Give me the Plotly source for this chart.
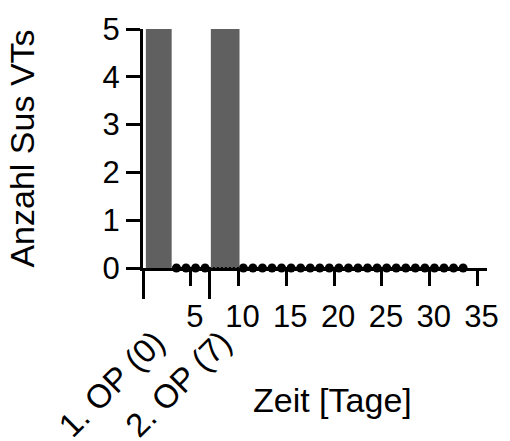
import plotly.graph_objects as go

# Surgery days (long ticks with rotated labels)
op_days = [0, 7]
op_labels = ["1. OP (0)", "2. OP (7)"]

# Bars: number of sustained VTs in the days following each surgery
bar_centers = [1.65, 8.6]
bar_widths = [2.7, 3.0]
bar_counts = [5, 5]

# Daily counts afterwards (all zero)
dot_days = [3.5, 4.5, 5.5, 6.5] + [10.5 + i for i in range(24)]
dot_counts = [0] * len(dot_days)

x_ticks = [5, 10, 15, 20, 25, 30, 35]
y_ticks = [0, 1, 2, 3, 4, 5]

FONT = "Liberation Sans, Arial, sans-serif"
BAR_COLOR = "#606060"

fig = go.Figure()
fig.add_trace(go.Bar(
    x=bar_centers, y=bar_counts, width=bar_widths,
    marker=dict(color=BAR_COLOR, line=dict(width=0)),
    showlegend=False,
))
fig.add_trace(go.Scatter(
    x=dot_days, y=dot_counts, mode="markers+lines",
    marker=dict(color="black", size=9),
    line=dict(color="black", width=2),
    cliponaxis=False, showlegend=False,
))
# invisible trace to activate the secondary x axis for the surgery ticks
fig.add_trace(go.Scatter(x=op_days, y=[0, 0], xaxis="x2", mode="markers",
                         marker=dict(opacity=0), showlegend=False,
                         hoverinfo="skip"))

# dotted baseline where the second bar sits on the axis
b2_left = bar_centers[1] - bar_widths[1] / 2
b2_right = bar_centers[1] + bar_widths[1] / 2
fig.add_shape(type="line", xref="x", yref="y", x0=b2_left, x1=b2_right,
              y0=0, y1=0, layer="above",
              line=dict(color=BAR_COLOR, width=3, dash="2px,2px"))

fig.update_layout(
    width=510, height=441,
    margin=dict(l=143, r=23, t=29, b=173),
    plot_bgcolor="white", paper_bgcolor="white",
    font=dict(family=FONT, size=31, color="black"),
    xaxis=dict(
        range=[0, 36], tickvals=x_ticks, ticktext=[str(v) for v in x_ticks],
        showline=True, linecolor="black", linewidth=3,
        ticks="outside", ticklen=15, tickwidth=3, tickcolor="black",
        showgrid=False, zeroline=False, tickangle=0,
        ticklabelshift=4, ticklabelstandoff=4, automargin=False,
    ),
    xaxis2=dict(
        overlaying="x", side="bottom", range=[0, 36],
        tickvals=op_days, ticktext=op_labels, tickangle=-45,
        ticks="outside", ticklen=30, tickwidth=3, tickcolor="black",
        showline=False, showgrid=False, zeroline=False,
        tickfont=dict(size=33),
        ticklabelshift=12, ticklabelstandoff=11, automargin=False,
    ),
    yaxis=dict(
        range=[0, 5], tickvals=y_ticks,
        showline=True, linecolor="black", linewidth=3,
        ticks="outside", ticklen=14, tickwidth=3, tickcolor="black",
        showgrid=False, zeroline=False, automargin=False,
        title=dict(text="Anzahl Sus VTs", font=dict(size=34), standoff=58),
    ),
    annotations=[dict(
        text="Zeit [Tage]", xref="paper", yref="paper",
        x=(332 - 143) / 344, y=-(400 - 268) / 239,
        xanchor="center", yanchor="middle", showarrow=False,
        font=dict(size=34),
    )],
)

fig.write_html("out.html")
